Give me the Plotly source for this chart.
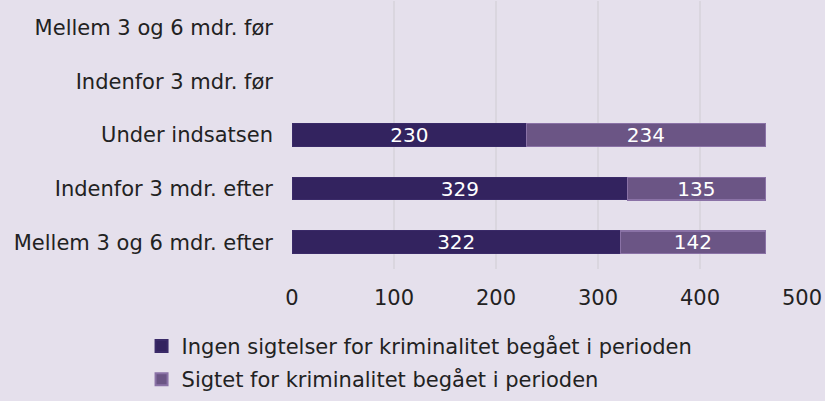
import plotly.graph_objects as go

periods = [
    "Mellem 3 og 6 mdr. før",
    "Indenfor 3 mdr. før",
    "Under indsatsen",
    "Indenfor 3 mdr. efter",
    "Mellem 3 og 6 mdr. efter",
]
no_charges = [None, None, 230, 329, 322]
charged = [None, None, 234, 135, 142]
x_ticks = [0, 100, 200, 300, 400, 500]

series_names = [
    "Ingen sigtelser for kriminalitet begået i perioden",
    "Sigtet for kriminalitet begået i perioden",
]

FONT = "DejaVu Sans"
BG = "#E5E0EC"
SIZE = 21

fig = go.Figure()
fig.add_trace(go.Bar(
    y=periods, x=no_charges, orientation="h", name=series_names[0],
    marker=dict(color="#33235F", line=dict(color="#3A2A68", width=1)),
    text=no_charges, textposition="inside", insidetextanchor="middle",
    textfont=dict(color="white", size=20, family=FONT),
    constraintext="none", width=0.42, legendgroup="a",
))
fig.add_trace(go.Bar(
    y=periods, x=charged, orientation="h", name=series_names[1],
    marker=dict(color="#6B5585", line=dict(color="#8A72A6", width=1.5)),
    text=charged, textposition="inside", insidetextanchor="middle",
    textfont=dict(color="white", size=20, family=FONT),
    constraintext="none", width=0.42, legendgroup="b",
))

fig.update_layout(
    barmode="stack",
    width=825, height=401,
    paper_bgcolor=BG, plot_bgcolor=BG,
    margin=dict(l=292, r=23, t=1, b=125),
    font=dict(family=FONT, size=SIZE, color="#222222"),
    showlegend=True,
    legend=dict(
        orientation="v", x=-0.295, xanchor="left", y=-0.212, yanchor="top",
        font=dict(size=SIZE, family=FONT, color="#222222"),
        bgcolor="rgba(0,0,0,0)", tracegroupgap=3, itemsizing="constant",
        traceorder="grouped",
    ),
)
fig.update_xaxes(
    range=[0, 500], tickvals=x_ticks, showgrid=True, gridcolor="#DAD6DF",
    gridwidth=2, zeroline=False, showline=False, ticks="", ticklabelstandoff=14,
)
fig.update_yaxes(
    categoryorder="array", categoryarray=periods, autorange="reversed",
    showgrid=False, showline=False, ticks="", ticklabelstandoff=18,
)

fig.write_html("out.html")
